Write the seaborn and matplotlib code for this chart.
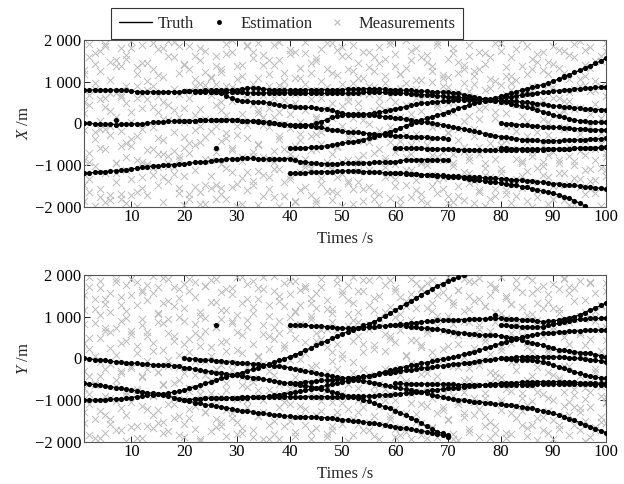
import matplotlib
matplotlib.use("Agg")
import matplotlib.pyplot as plt
from matplotlib.lines import Line2D
from matplotlib.ticker import FuncFormatter
import numpy as np
import pandas as pd
import seaborn as sns

# ---- truth / estimate tracks, one value per second from the start time ----
x_starts = [1, 20, 20, 1, 20, 1, 40, 40, 60, 60, 80, 80]
x_tr1 = [800, 800, 800, 790, 800, 800, 800, 800, 790, 770, 760, 760, 750, 760, 760, 750, 760, 760, 760,
         770, 770, 780, 780, 790, 790, 790, 800, 800, 800, 800, 820, 840, 850, 840, 830, 810, 800, 800, 800, 800,
         800, 800, 810, 800, 800, 810, 810, 800, 800, 810, 820, 820, 820, 830, 830, 830, 820, 820, 810, 800,
         800, 790, 790, 780, 770, 770, 760, 750, 750, 740, 730, 720, 690, 660, 640, 610, 580, 560, 550, 540,
         540, 530, 530, 510, 500, 490, 470, 460, 440, 420, 410, 390, 380, 370, 360, 350, 340, 330, 330, 320]
x_tr2 = [770, 770, 760, 760, 750, 750, 750, 740, 740, 740, 740, 740, 730, 730, 730, 730, 730, 730, 730, 730,
         730, 730, 720, 720, 720, 720, 720, 720, 720, 720, 720, 720, 730, 730, 740, 740, 740, 740, 740, 730,
         730, 720, 720, 710, 700, 690, 680, 670, 660, 650, 640, 630, 620, 610, 600, 590, 580, 560, 550, 530,
         520, 500, 470, 440, 410, 390, 360, 320, 280, 240, 200, 170, 140, 110, 80, 60, 50, 40, 30, 20, 20]
x_tr3 = [780, 780, 780, 770, 770, 760, 740, 720, 660, 600, 560, 540, 530, 520, 510, 500, 490, 460, 440, 420,
         410, 400, 390, 380, 380, 370, 350, 340, 310, 280, 250, 220, 220, 210, 200, 200, 190, 170, 160, 150,
         130, 120, 100, 80, 60, 40, 20, 0, -20, -40, -60, -90, -110, -140, -170, -190, -220, -250, -270, -300,
         -320, -340, -360, -370, -390, -400, -410, -410, -420, -420, -420, -420, -410, -410, -400, -400, -390,
         -380, -380, -370, -360]
x_tr4 = [0, 0, -10, -20, -20, -20, -30, -20, -20, -20, -10, -10, 0, 20, 30, 40, 50, 50, 60, 60,
         60, 60, 70, 70, 70, 80, 80, 90, 80, 70, 60, 60, 50, 50, 40, 20, 0, -20, -40, -50,
         -60, -60, -60, -60, -80, -100, -130, -150, -170, -190, -200, -210, -220, -230, -250, -260, -270, -280,
         -290, -300, -310, -310, -320, -330, -340, -340, -350, -360, -360, -370]
x_tr5 = [60, 60, 60, 70, 70, 70, 80, 80, 80, 80, 70, 60, 50, 50, 40, 30, 10, 0, -10, -20,
         -30, -40, -40, -40, -40, 0, 40, 90, 150, 170, 190, 200, 210, 220, 220, 230, 250, 270, 290, 320,
         350, 370, 400, 430, 460, 480, 490, 510, 520, 530, 540, 550, 560, 560, 570, 570, 580, 580, 590, 590,
         600, 620, 640, 660, 680, 700, 710, 730, 740, 750, 770, 780, 800, 810, 820, 830, 840, 850, 860, 870, 880]
x_tr6 = [-1200, -1190, -1180, -1170, -1160, -1150, -1140, -1130, -1120, -1100, -1080, -1060, -1040, -1030,
         -1020, -1010, -1000, -990, -980, -970, -960, -940, -930, -920, -900, -880, -870, -860, -850, -850,
         -840, -840, -840, -850, -850, -860, -860, -850, -850, -850, -880, -920, -930, -950, -960, -970, -970,
         -980, -970, -960, -960, -960, -950, -950, -950, -940, -940, -930, -930, -920, -900, -880, -880, -870,
         -870, -870, -870, -880, -880, -880]
x_tr7 = [-600, -600, -590, -590, -580, -570, -560, -540, -520, -500, -480, -460, -440, -420, -390, -360, -320,
         -280, -240, -200, -160, -110, -60, -20, 30, 80, 120, 160, 200, 230, 270, 310, 360, 400, 440, 480, 510,
         540, 570, 610, 650, 690, 720, 760, 800, 830, 860, 890, 930, 960, 1010, 1060, 1110, 1160, 1220, 1270,
         1330, 1380, 1440, 1500, 1560]
x_tr8 = [-1200, -1200, -1200, -1190, -1180, -1180, -1170, -1160, -1160, -1150, -1150, -1140, -1140, -1150,
         -1160, -1160, -1170, -1180, -1190, -1190, -1200, -1200, -1210, -1220, -1220, -1230, -1240, -1240,
         -1250, -1250, -1260, -1270, -1270, -1280, -1290, -1300, -1300, -1310, -1320, -1320, -1330, -1340,
         -1350, -1360, -1370, -1380, -1390, -1400, -1420, -1430, -1450, -1460, -1470, -1480, -1490, -1510,
         -1520, -1530, -1550, -1560, -1580]
x_tr9 = [-1200, -1200, -1200, -1210, -1220, -1230, -1240, -1250, -1260, -1270, -1280, -1290, -1300, -1320,
         -1340, -1360, -1370, -1390, -1400, -1420, -1430, -1450, -1470, -1490, -1520, -1540, -1570, -1600,
         -1630, -1650, -1680, -1720, -1760, -1800, -1860, -1920, -1980]
x_tr10 = [-600, -600, -600, -600, -600, -600, -610, -610, -610, -620, -620, -620, -630, -630, -640, -640,
          -640, -650, -650, -650, -650, -650, -650, -640, -640, -640, -630, -630, -630, -620, -620, -620,
          -610, -610, -600, -600, -600, -590, -590, -590, -580]
x_tr11 = [0, -10, -20, -30, -40, -50, -60, -70, -80, -90, -100, -100, -110, -120, -130, -130, -140, -150,
          -150, -160, -160]
x_tr12 = [-600, -600, -610, -610, -610, -620, -620, -620, -620, -620, -620, -620, -610, -610, -600, -600,
          -600, -590, -590, -580, -580]
x_tracks = [x_tr1, x_tr2, x_tr3, x_tr4, x_tr5, x_tr6, x_tr7, x_tr8, x_tr9, x_tr10, x_tr11, x_tr12]

y_starts = [1, 1, 1, 20, 20, 20, 40, 40, 60, 60, 80, 80]
y_tr1 = [0, -10, -30, -40, -50, -70, -80, -90, -100, -110, -120, -130, -140, -150, -160, -160, -170, -180,
         -190, -220, -240, -260, -280, -300, -320, -340, -350, -370, -390, -400, -420, -440, -460, -480, -500,
         -520, -540, -560, -580, -600, -620, -640, -660, -680, -700, -730, -770, -800, -830, -870, -900, -920,
         -940, -990, -1030, -1080, -1120, -1160, -1200, -1260, -1310, -1360, -1420, -1490, -1560, -1630, -1700,
         -1760, -1800, -1840]
y_tr2 = [-1000, -1000, -1000, -990, -990, -980, -980, -970, -960, -940, -920, -910, -890, -880, -860, -850,
         -830, -810, -790, -760, -720, -680, -640, -600, -560, -520, -480, -450, -410, -380, -340, -300, -260,
         -220, -180, -140, -90, -50, -10, 40, 80, 140, 190, 250, 310, 370, 420, 480, 530, 590, 640, 690, 740,
         790, 830, 880, 940, 1010, 1080, 1150, 1230, 1300, 1380, 1450, 1530, 1600, 1670, 1740, 1790, 1850,
         1900, 1950, 2000]
y_tr3 = [-600, -610, -630, -640, -660, -680, -700, -720, -740, -760, -780, -800, -820, -840, -860, -890, -910,
         -940, -970, -1000, -1030, -1060, -1080, -1110, -1130, -1150, -1160, -1190, -1210, -1240, -1260, -1270,
         -1290, -1310, -1320, -1340, -1350, -1370, -1380, -1390, -1400, -1400, -1400, -1410, -1410, -1420,
         -1430, -1440, -1450, -1470, -1480, -1500, -1510, -1530, -1540, -1560, -1580, -1600, -1620, -1640,
         -1660, -1680, -1700, -1720, -1740, -1760, -1790, -1820, -1850, -1880]
y_tr4 = [-1000, -990, -980, -970, -960, -960, -960, -950, -950, -950, -950, -940, -940, -930, -930, -920,
         -910, -890, -870, -850, -830, -810, -790, -770, -740, -710, -680, -650, -620, -590, -570, -540, -510,
         -480, -450, -420, -390, -360, -320, -290, -260, -230, -200, -170, -150, -120, -100, -70, -50, -20,
         0, 30, 60, 100, 130, 160, 200, 240, 280, 320, 360, 400, 430, 470, 510, 540, 560, 580, 600, 610,
         620, 630, 640, 650, 650, 660, 670, 670, 680, 680, 680]
y_tr5 = [-1000, -990, -980, -970, -960, -960, -950, -950, -940, -940, -940, -930, -930, -930, -920, -920,
         -920, -920, -920, -920, -920, -920, -920, -920, -920, -920, -920, -920, -920, -920, -920, -920, -910,
         -910, -910, -900, -900, -890, -880, -870, -860, -850, -830, -820, -810, -800, -780, -770, -750, -740,
         -720, -710, -700, -680, -670, -660, -650, -640, -620, -610, -600, -590, -580, -580, -570, -560, -560,
         -560, -560, -560, -560, -560, -570, -570, -570, -580, -580, -590, -590, -600, -600]
y_tr6 = [0, -10, -20, -30, -40, -50, -60, -70, -80, -90, -100, -110, -120, -130, -140, -150, -160, -180, -190,
         -200, -230, -250, -280, -300, -330, -360, -380, -410, -430, -450, -460, -480, -500, -520, -540, -560,
         -590, -610, -640, -660, -690, -720, -740, -760, -780, -800, -830, -870, -900, -930, -960, -980, -990,
         -1010, -1020, -1040, -1050, -1060, -1070, -1090, -1100, -1120, -1130, -1150, -1160, -1180, -1200,
         -1230, -1260, -1290, -1320, -1360, -1400, -1450, -1490, -1540, -1590, -1640, -1690, -1740, -1780]
y_tr7 = [-600, -590, -580, -570, -560, -540, -530, -520, -510, -500, -490, -480, -460, -450, -430, -420, -400,
         -380, -360, -340, -320, -300, -290, -270, -260, -240, -220, -210, -190, -180, -160, -140, -130, -110,
         -100, -80, -60, -50, -30, -20, 0, 10, 20, 30, 40, 40, 40, 40, 40, 40, 40, 30, 30, 20, 10, 0, -20, -30,
         -50, -60, -80]
y_tr8 = [800, 800, 790, 790, 780, 780, 770, 760, 750, 740, 730, 720, 720, 730, 740, 750, 760, 770, 780, 790,
         800, 820, 830, 850, 860, 880, 890, 900, 910, 910, 920, 920, 930, 930, 940, 940, 950, 950, 960, 960,
         960, 950, 950, 940, 930, 920, 910, 900, 880, 890, 900, 920, 950, 980, 1000, 1050, 1100, 1160, 1210,
         1270, 1320]
y_tr9 = [-600, -600, -610, -610, -610, -610, -620, -620, -620, -620, -620, -620, -630, -630, -630, -630, -640,
         -640, -640, -640, -640, -640, -640, -630, -630, -630, -630, -620, -620, -620, -620, -620, -620, -620,
         -620, -620, -620, -620, -630, -630, -630]
y_tr10 = [800, 790, 780, 760, 750, 730, 720, 710, 700, 680, 660, 640, 620, 610, 590, 580, 560, 560, 550, 550,
          540, 520, 500, 480, 440, 400, 370, 350, 320, 280, 240, 200, 190, 170, 160, 140, 130, 120, 90, 60, 40]
y_tr11 = [0, -10, -20, -30, -40, -40, -50, -60, -80, -120, -160, -200, -240, -280, -320, -360, -400, -430,
          -450, -470, -480]
y_tr12 = [800, 790, 780, 770, 760, 750, 750, 750, 760, 790, 820, 840, 870, 900, 920, 940, 950, 960, 960, 960,
          960]
y_tracks = [y_tr1, y_tr2, y_tr3, y_tr4, y_tr5, y_tr6, y_tr7, y_tr8, y_tr9, y_tr10, y_tr11, y_tr12]

# stray estimates away from any truth
stray_t_x = [7, 26, 92]
stray_x = [90, -590, 1130]
stray_t_y = [26, 79]
stray_y = [790, 1040]

# ---- measurements: two batches of four per scan, scans 1..100 ----
meas_x_a = [
    -1863, -158, 519, 1276, 1903, -936, 688, -1649, -205, 1422, -1982, 967, 583, -1770, 1741, -604,
    -141, 1859, -1895, 614, 1472, -62, -1713, 287, -950, 726, 1365, -1189, 1811, -1807, 640, -543,
    902, -1922, -466, 1534, -1731, 269, 1985, -388, 612, -1659, 1341, -874, -130, 1870, -1297, 703,
    1458, -979, -1021, 796, -615, 385, -1066, 1934, 1167, -348, 652, -1491, -1283, 1818, 94, -731,
    446, -1024, 1976, -788, -1212, 1587, -670, 330, 1861, -852, 148, -1679, -595, 1405, -1953, 37,
    764, -1708, -482, 1292, -1518, 889, -171, 1626, 343, 1797, -1941, -59, -1485, 914, 1238, -328,
    672, -887, 1113, -1545, -1808, 1366, -58, 942, 1240, -427, -1690, 515, -1073, 188, 1661, -349,
    1996, -1520, 871, -634, -290, 1057, -1448, 765, -1931, 1402, 230, -812, 577, -1166, 1889, -45,
    -1374, -683, 1719, 461, 1083, -1960, 322, -507, -802, 1648, -1237, 153, 1530, -96, 907, -1584,
    -1765, 618, -921, 1394, 266, 1950, -1102, -379, -1416, 1211, -7, 850, 1768, -1339, 404, -729,
    -553, 1099, -1876, 697, 1325, -249, -1593, 38, -1049, 1681, 933, -862, 1446, -1710, -316, 581,
    -1925, 142, 1579, -616, 1012, -1458, 788, -202, -1627, 1930, -924, 345, 476, -1097, 1203, -1832,
    -1301, 1766, -537, 219, 1620, -75, -1980, 954, -887, 1308, 641, -1429, 1889, -1582, -271, 118,
    -1154, 495, 1452, -960, 732, -1875, 1099, -430, -1538, 1714, -19, 888, 1263, -722, -1645, 302,
    -1961, 601, 1837, -158, 974, -1293, -836, 1549, -447, 1905, -1783, 170, 1386, -986, 523, -1331,
    -1810, 855, -604, 1174, 433, -1472, 1996, -289, -1126, 1522, -737, 77, 1802, -353, -1595, 618,
    -1694, 1041, 290, -955, 709, -1917, 1628, -512, -1236, 1370, -91, 983, 1954, -807, -1361, 456,
    -1580, 245, 1167, -683, 1119, -1734, 864, -230, -963, 1689, -1887, 511, 1473, -133, 740, -1502,
    -1847, 967, -568, 1305, 186, 1891, -1205, -876, -1395, 1255, -301, 628, 1711, -1644, 92, -747,
    -1062, 1423, -1994, 382, 842, -462, 1586, -1289, -1753, 1027, -845, 271, 1937, -1186, 515, -366,
    -1612, 703, 1349, -59, 1134, -1903, -621, 957, -1327, 1794, -194, 438, 680, -1559, 1998, -913,
    -1871, 1192, 36, -448, 1546, -776, -1418, 811, -1080, 1675, 367, -1769, 1283, -1239, -510, 96,
    -1946, 925, 1467, -283, 1866, -692, -1513, 604, -1199, 1316, 230, -964, 540, -1833, 1742, -145,
    -1461, 1059, -793, 748, 1603, -1011, -1927, 332, -672, 1969, -1346, 891, 1407, -417, 1132, -1698,
    -1574, 764, -1092, 1828, 1025, -1368, 462, -611, -1989, 1486, -236, 903, 1739, -1129, 658, -812]
meas_y_a = [
    1532, -1287, 364, -712, -418, 1965, -1846, 223, 1179, -603, 845, -1452, -1913, 492, -87, 1688,
    731, -1360, 1427, -256, -1574, 1106, -941, 638, 1834, -1720, 75, -528, -342, 1291, -1197, 902,
    1760, -808, 413, -1993, -1655, 668, 1512, -174, 297, -1908, -736, 1845, -1136, 1593, 949, -419,
    1404, -262, -1613, 548, -872, 1972, 183, -1360, 1059, -1541, -325, 1718, -1798, 856, 1336, -633,
    612, -1102, 1911, -46, -1441, 1247, -588, 409, 1669, -1849, -213, 986, -977, 340, 1786, -1582,
    1895, -701, 152, -1218, -1690, 1482, -392, 827, 503, -1941, 1121, -849, -1278, 1744, -56, 660,
    1347, -515, -1752, 281, -1010, 1906, 742, -1466, 1593, -1627, -164, 934, -1862, 1158, 427, -771,
    887, -1314, 1678, -290, -1519, 1032, -957, 198, 1951, -638, 565, -1784, -1176, 1419, -201, 746,
    1226, -1890, 1847, -467, -749, 1696, -1395, 38, 1675, -1007, 802, -1942, -1607, 533, 1278, -310,
    466, -1505, 1989, -854, -1930, 1367, -117, 619, 1818, -929, 260, -1626, -1093, 1546, -702, 1004,
    1124, -1773, -439, 1857, -1384, 795, 1640, -26, 1729, -1215, -563, 384, -1946, 1009, 1452, -806,
    617, -1660, 1205, -155, -1265, 1894, -893, 471, 1398, -328, -1826, 705, -1731, 1183, 152, -1048,
    1962, -1419, 679, -247, -838, 1610, -1571, 97, 1073, -1983, 1766, -621, -1456, 922, -84, 1338,
    1615, -717, -1282, 546, -1007, 1871, 337, -1713, 1291, -1530, 827, -391, -1852, 1443, -668, 215,
    766, -1146, 1982, -926, -1597, 1109, -247, 588, 1889, -862, 454, -1373, -1211, 1694, -1885, 1001,
    1472, -406, -1654, 879, -1764, 1257, 63, -589, 923, -1932, 1534, -113, -1339, 1819, -772, 452,
    1685, -1089, -1549, 319, -1918, 687, 1203, -351, 1143, -1672, -20, 1890, -594, 1529, -1318, 768,
    1757, -1244, 226, -895, -1481, 1014, -706, 1961, 1354, -1814, 610, -173, -1107, 1638, -1967, 352,
    1904, -529, 894, -1408, -1690, 1175, -241, 1507, 558, -1355, 1838, -650, -1876, 1420, -53, 813,
    1249, -947, -1623, 407, -1538, 1786, 664, -330, 1667, -1795, -482, 1116, -1003, 1954, 198, -1229,
    1438, -614, -1914, 951, -1822, 1296, 381, -787, 775, -1440, 1715, -92, -1260, 1593, -830, 541,
    1982, -1127, 268, -1670, -1609, 1061, -415, 1873, 1325, -1958, 923, -209, -854, 1739, -1396, 676,
    1539, -326, -1783, 144, -1941, 1217, 758, -992, 1088, -1589, 1664, -464, -1373, 1909, -188, 520,
    1711, -1046, -1833, 867, -1168, 1380, 49, -735, 1856, -1711, 595, -1296, -1494, 1123, -975, 330,
    948, -1877, 1809, -561, -1722, 1562, -328, 1003, 1265, -893, -1416, 714, -1039, 1802, 437, -1555]
meas_x_b = [
    1188, -1472, 236, -875, -1334, 447, -712, 1580, 829, -1029, 1697, -384, -1588, 1263, 47, -148,
    -623, 1914, -1204, 391, 1045, -279, 735, -1836, -1417, 162, 1529, -955, 671, -1693, -186, 1372,
    -1120, 1645, -813, 478, 1817, -547, -1344, 20, -1975, 893, 1186, -306, 364, -1555, -927, 1451,
    -1711, 1019, 583, -647, 1299, -1236, -93, 905, -1049, 1776, -738, 264, 517, -1893, 1107, -411,
    -1380, 72, 1622, -959, 1954, -1041, 815, -218, -794, 1209, -1561, 693, 1430, -335, 376, -1266,
    -1807, 616, 1857, -702, 1071, -1112, -529, 198, -451, 1530, -1653, 942, 1730, -1926, 105, -867,
    -1258, 1095, -178, 751, 1612, -690, -1479, 428, -1559, 310, 1293, -981, 884, -1825, -244, 1904,
    -1161, 1716, 532, -603, 1373, -72, -1988, 806, -906, 1137, -1318, 59, 1845, -1602, 698, -356,
    -1478, 947, -781, 1566, 249, -1140, 1935, -523, -1742, 1409, -37, 687, 1186, -855, -1283, 375,
    -1095, 1871, 142, -676, 1527, -1987, 917, -295, -617, 1025, -1736, 571, 1665, -1267, -113, 230,
    -1889, 484, 1712, -831, 1093, -406, -1181, 754, -1536, 1952, 320, -978, 809, -1073, -642, 1217,
    -265, 1489, -1849, 95, 1786, -1325, 604, -490, -1011, 1302, -88, 863, 1920, -735, -1629, 131,
    -1682, 773, 1155, -558, 418, -1206, 1826, -917, -1393, 1611, -322, 547, 1251, -1947, 956, -167,
    -847, 1090, -1402, 290, 1706, -1584, 68, -749, -1128, 1357, -459, 715, 1583, -293, -1811, 873,
    -1686, 443, 1444, -617, 1147, -1056, -912, 329, -1250, 1969, 620, -78, 775, -1517, -684, 1655,
    -1966, 1179, 158, -436, 1318, -807, -1128, 961, -530, 1733, -1765, 213, 1046, -1371, 834, -262,
    -1853, 577, 1586, -913, 1462, -1008, -346, 106, -769, 1246, -1497, 659, 1891, -1670, 391, -52,
    -1322, 1078, -874, 902, 1550, -220, -1911, 497, -1025, 1809, 263, -733, 1210, -1745, 682, -401,
    -671, 1391, -1181, 44, 1608, -1443, -815, 771, -1903, 935, 1127, -134, 1297, -577, -1590, 339,
    -1230, 1683, 811, -948, 1063, -1812, -286, 568, -1569, 1920, 139, -622, 1745, -1097, 923, -513,
    -398, 1126, -1688, 252, 1582, -1399, -57, 788, -1734, 1030, 475, -846, 1376, -955, -1261, 175,
    -1147, 1862, 692, -312, 899, -1998, 1308, -689, -1620, 1477, -214, 446, 1715, -1034, 557, -937,
    -1290, 1194, -769, 39, 1433, -1815, 860, -389, -870, 1750, -1473, 617, 1201, -1190, -98, 294,
    -1961, 531, 1639, -574, 821, -1314, -901, 1897, -1533, 1068, 373, -258, 1769, -764, -1110, 930,
    -1396, 1332, -67, 216, 1504, -1677, 793, -876, -1063, 1618, -492, 125, 1925, -1260, 301, -708]
meas_y_b = [
    -1542, 833, -297, 1166, 1712, -1088, 490, -846, -633, 1425, -1901, 57, 1036, -412, 1849, -1260,
    -1795, 662, -905, 1317, 254, -1463, 1581, -137, -1027, 1904, -666, 718, 1481, -1722, 371, -295,
    -872, 1133, -1350, 960, 1896, -221, -1036, 589, -1619, 1277, 126, -780, 803, -1918, -451, 1640,
    -1204, 1758, 633, -58, 1568, -907, -1677, 372, -327, 1096, -1234, 879, 1933, -1519, 211, -613,
    -1748, 945, -182, 1386, 531, -1095, 1702, -940, -1385, 1453, -526, 76, 1207, -1883, 888, -359,
    -779, 1625, -1426, 467, 1840, -64, -1146, 613, -1987, 1019, 289, -701, 975, -1295, -388, 1734,
    -1118, 1882, 56, -832, 1361, -1659, 757, -245, -908, 1164, -1524, 394, 1675, -1236, 181, -587,
    -1440, 1549, -110, 843, 642, -1812, 1953, -973, -1663, 1325, -440, 118, 1792, -1007, 928, -678,
    -573, 1087, -1718, 350, 1421, -1385, 46, -911, -1277, 1960, 585, -144, 1018, -1946, -760, 237,
    -1825, 744, 1617, -389, 1509, -617, -1179, 902, -1051, 1250, 316, -848, 1868, -1502, 679, -33,
    -736, 1144, -1867, 494, 1273, -1140, -270, 815, -1599, 1697, 127, -625, 955, -1771, 1332, -196,
    -1362, 1580, -924, 406, 1710, -488, -1033, 693, -1897, 281, 1189, -764, 1089, -1613, 872, -71,
    -476, 1803, -1296, 338, 1555, -1063, 17, -907, -1221, 1396, -613, 770, 1948, -1841, 425, -342,
    -1006, 1117, -1587, 871, 1629, -247, -1170, 156, -1715, 706, 1874, -508, 1167, -1380, -835, 312,
    -611, 1488, -1931, 959, 1752, -1008, 187, -733, -1448, 1228, -306, 534, 396, -1695, 1619, -989,
    -1832, 1056, 684, -221, 1376, -551, -1303, 80, -1080, 1917, 446, -862, 1214, -1524, -126, 787,
    -374, 1661, -1840, 263, 1807, -1155, 599, -675, -1650, 1334, -951, 148, 1023, -1878, 931, -423,
    -1172, 1589, -36, 662, 1460, -724, -1460, 305, -1927, 823, 1291, -896, 1633, -1031, -218, 566,
    -1307, 1141, -797, 29, 867, -1764, 1855, -486, -1054, 1385, 238, -960, 1926, -1221, 714, -155,
    -827, 1264, -1389, 490, 1519, -1921, 97, -593, -1612, 1716, -346, 873, 1092, -448, -1061, 264,
    -1781, 974, 1495, -729, 1303, -1318, -94, 611, -1140, 1887, 827, -279, 735, -1593, 1230, -947,
    -508, 1048, -1854, 405, 1581, -1026, 185, -651, -1435, 1662, -818, 766, 1219, -1727, 543, -32,
    -961, 1358, -1269, 222, 1774, -1490, 689, -397, -1695, 1195, -552, 98, 896, -1151, 1927, -804,
    -1356, 1567, 337, -188, 1696, -877, -1588, 936, -1201, 1022, -419, 644, 1409, -1974, 82, -711,
    -805, 1835, -1174, 465, 1147, -1642, 902, -249, -1528, 1283, -657, 183, 1616, -1068, 749, -926]
scans = np.arange(1, 101)
meas_t = np.concatenate([np.repeat(scans, 4), np.repeat(scans, 4)])
meas_x = meas_x_a + meas_x_b
meas_y = meas_y_a + meas_y_b


def track_frame(starts, tracks):
    rows = []
    for i, (s, vals) in enumerate(zip(starts, tracks)):
        for k, v in enumerate(vals):
            rows.append((i, s + k, v))
    return pd.DataFrame(rows, columns=["track", "t", "v"])


def thousands(v, pos):
    s = "{:,}".format(int(round(v))).replace(",", " ")
    return s.replace("-", "\u2212")


sns.set_style("ticks")
plt.rcParams["font.family"] = ["Liberation Serif", "DejaVu Serif"]
plt.rcParams["mathtext.fontset"] = "custom"
plt.rcParams["mathtext.rm"] = "Liberation Serif"
plt.rcParams["mathtext.it"] = "Liberation Serif:italic"
plt.rcParams["font.size"] = 12

meas_col = "#bcbcbc"
fig = plt.figure(figsize=(6.24, 4.84), dpi=100)
ax1 = fig.add_axes([0.1346, 0.5731, 0.8365, 0.3443])
ax2 = fig.add_axes([0.1346, 0.0874, 0.8365, 0.3443])

panels = [(ax1, x_starts, x_tracks, meas_x, stray_t_x, stray_x, "$X$ /m"),
          (ax2, y_starts, y_tracks, meas_y, stray_t_y, stray_y, "$Y$ /m")]

for ax, starts, tracks, meas, st, sv, ylab in panels:
    df = track_frame(starts, tracks)
    est = pd.concat([df[["t", "v"]], pd.DataFrame({"t": st, "v": sv})])
    sns.scatterplot(x=meas_t, y=meas, marker="x", color=meas_col, s=26, linewidth=0.7,
                    ax=ax, zorder=1, legend=False)
    sns.lineplot(data=df, x="t", y="v", units="track", estimator=None, color="black",
                 lw=0.9, ax=ax, zorder=2, legend=False)
    sns.scatterplot(data=est, x="t", y="v", color="black", s=14, linewidth=0,
                    ax=ax, zorder=3, legend=False)

    ax.set_xlim(1, 100)
    ax.set_ylim(-2000, 2000)
    ax.set_xticks(range(10, 101, 10))
    ax.set_yticks(range(-2000, 2001, 1000))
    ax.yaxis.set_major_formatter(FuncFormatter(thousands))
    ax.tick_params(direction="in", top=True, right=True, length=4, width=0.6,
                   labelsize=12, pad=2, colors="black")
    for sp in ax.spines.values():
        sp.set_color("#555555")
        sp.set_linewidth(0.8)
    ax.set_xlabel("Times /s", fontsize=12, labelpad=4)
    ax.set_ylabel(ylab, fontsize=12, labelpad=2)

handles = [Line2D([], [], color="black", lw=1),
           Line2D([], [], color="black", marker=".", ls="none", ms=5),
           Line2D([], [], color=meas_col, marker="x", ls="none", ms=4, mew=0.8)]
leg = fig.legend(handles, ["Truth", "Estimation", "Measurements"], loc="center",
                 bbox_to_anchor=(0.4607, 0.9514), ncol=3, fontsize=12, frameon=True,
                 fancybox=False, edgecolor="#333333", framealpha=1, borderpad=0.45,
                 handlelength=2.0, handletextpad=0.3, columnspacing=0.5)
leg.get_frame().set_linewidth(0.8)

fig.savefig("out.png", dpi=100)
